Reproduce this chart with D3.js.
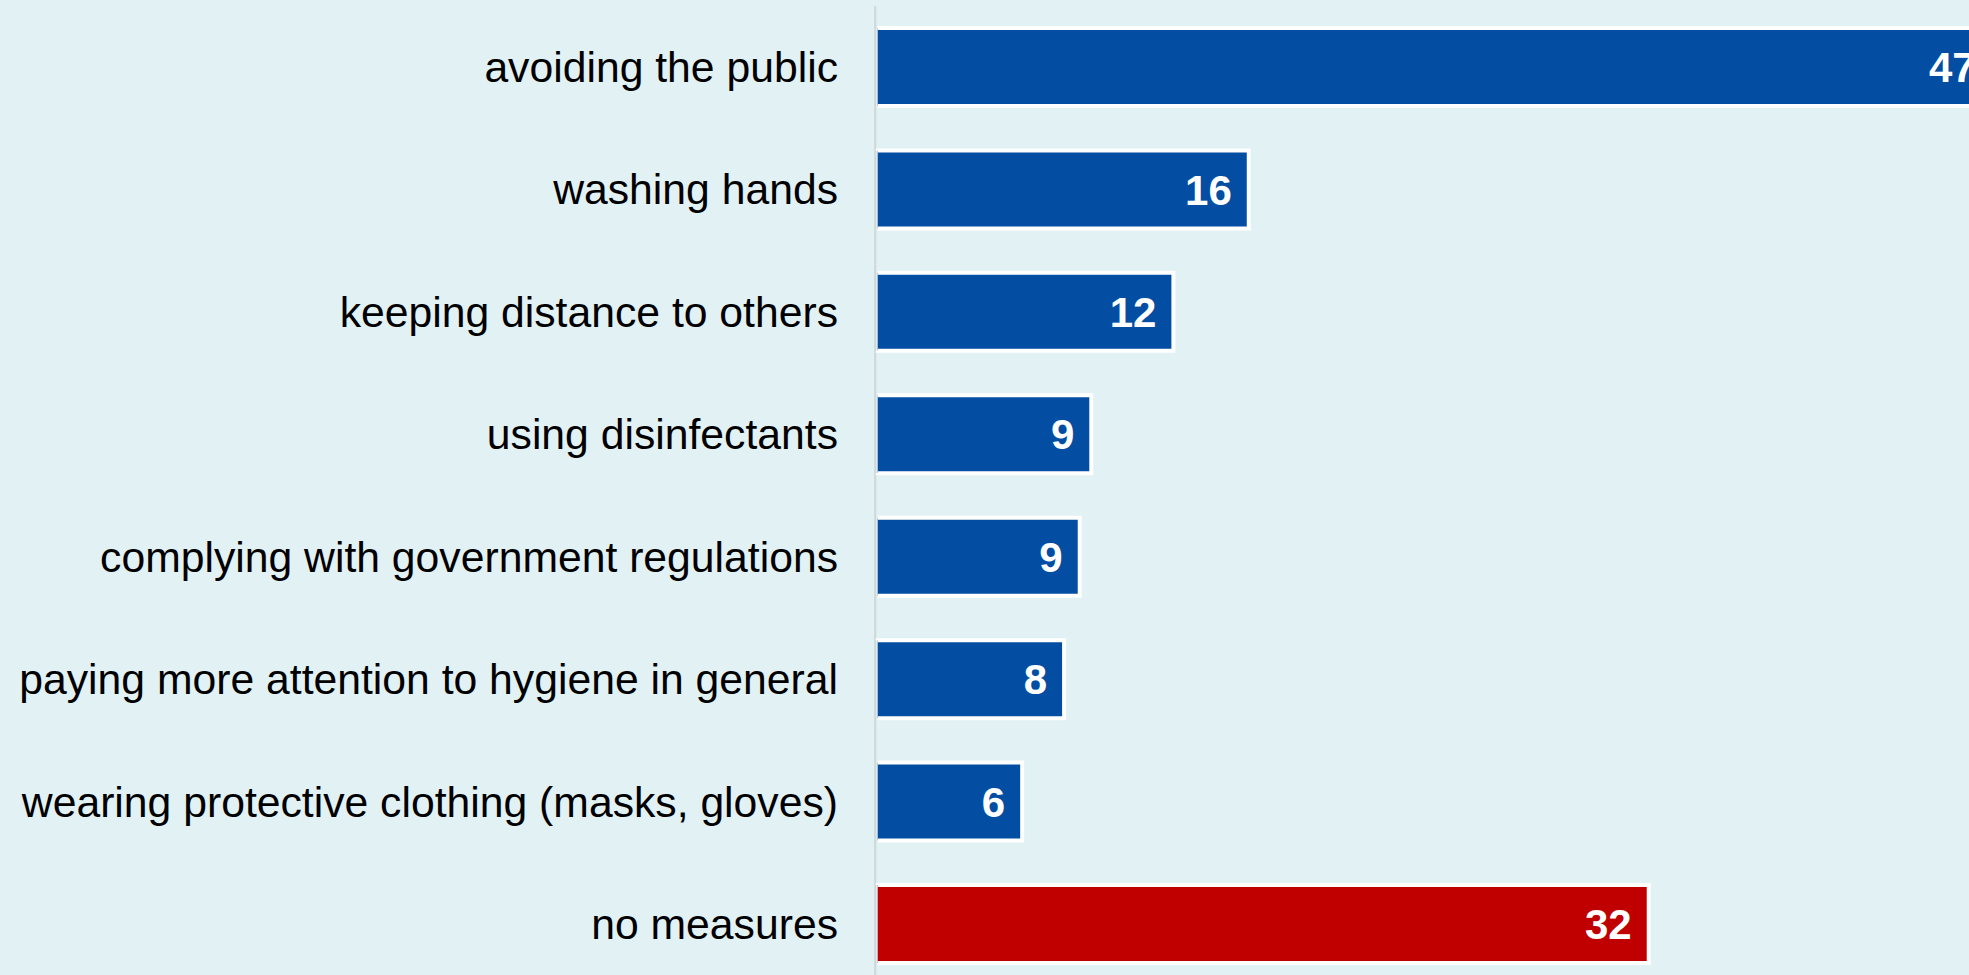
<!DOCTYPE html>
<html>
<head>
<meta charset="utf-8">
<script src="https://cdn.jsdelivr.net/npm/d3@7"></script>
<style>
  html, body { margin: 0; padding: 0; background: #e2f1f4; overflow: hidden; }
  svg { display: block; }
</style>
</head>
<body>
<svg id="chart" width="1969" height="975"></svg>
<script>
const categories = [
  "avoiding the public",
  "washing hands",
  "keeping distance to others",
  "using disinfectants",
  "complying with government regulations",
  "paying more attention to hygiene in general",
  "wearing protective clothing (masks, gloves)",
  "no measures"
];
const values = [46.3, 15.41, 12.28, 8.87, 8.39, 7.74, 6.0, 32.02];
const valueLabels = ["47", "16", "12", "9", "9", "8", "6", "32"];
const highlight = ["no measures"];

const W = 1969, H = 975;
const svg = d3.select("#chart");
svg.append("rect").attr("width", W).attr("height", H).attr("fill", "#e2f1f4");

const x = d3.scaleLinear().domain([0, 45.3]).range([877.7, 877.7 + 45.3 * 24.08]);
const y = d3.scaleBand().domain(categories)
  .range([5.79, 985.2]).paddingInner(0.363).paddingOuter(0.1815);

const data = categories.map((c, i) => ({ c, v: values[i], l: valueLabels[i] }));

// axis line
svg.append("line")
  .attr("x1", x(0) - 2.5).attr("x2", x(0) - 2.5)
  .attr("y1", 6).attr("y2", H)
  .attr("stroke", "#cfd8d8").attr("stroke-width", 2);

// bars
svg.selectAll("rect.bar").data(data).join("rect")
  .attr("class", "bar")
  .attr("x", x(0))
  .attr("y", d => y(d.c))
  .attr("width", d => x(d.v) - x(0))
  .attr("height", y.bandwidth())
  .attr("fill", d => highlight.includes(d.c) ? "#c00000" : "#034ea2")
  .attr("stroke", "#ffffff")
  .attr("stroke-width", 4)
  .attr("stroke-dasharray", d => {
    const w = x(d.v) - x(0), h = y.bandwidth();
    return `${w + h + w} ${h}`;
  });

// category labels
svg.selectAll("text.cat").data(data).join("text")
  .attr("class", "cat")
  .attr("x", 838)
  .attr("y", d => y(d.c) + y.bandwidth() / 2)
  .attr("dy", "0.35em")
  .attr("text-anchor", "end")
  .attr("font-family", "Liberation Sans, Arial, sans-serif")
  .attr("font-size", 42.7)
  .attr("fill", "#000")
  .text(d => d.c);

// value labels
svg.selectAll("text.val").data(data).join("text")
  .attr("class", "val")
  .attr("x", d => x(d.v) - 17)
  .attr("y", d => y(d.c) + y.bandwidth() / 2)
  .attr("dy", "0.36em")
  .attr("text-anchor", "end")
  .attr("font-family", "Liberation Sans, Arial, sans-serif")
  .attr("font-weight", "bold")
  .attr("font-size", 42)
  .attr("fill", "#ffffff")
  .text(d => d.l);
</script>
</body>
</html>
